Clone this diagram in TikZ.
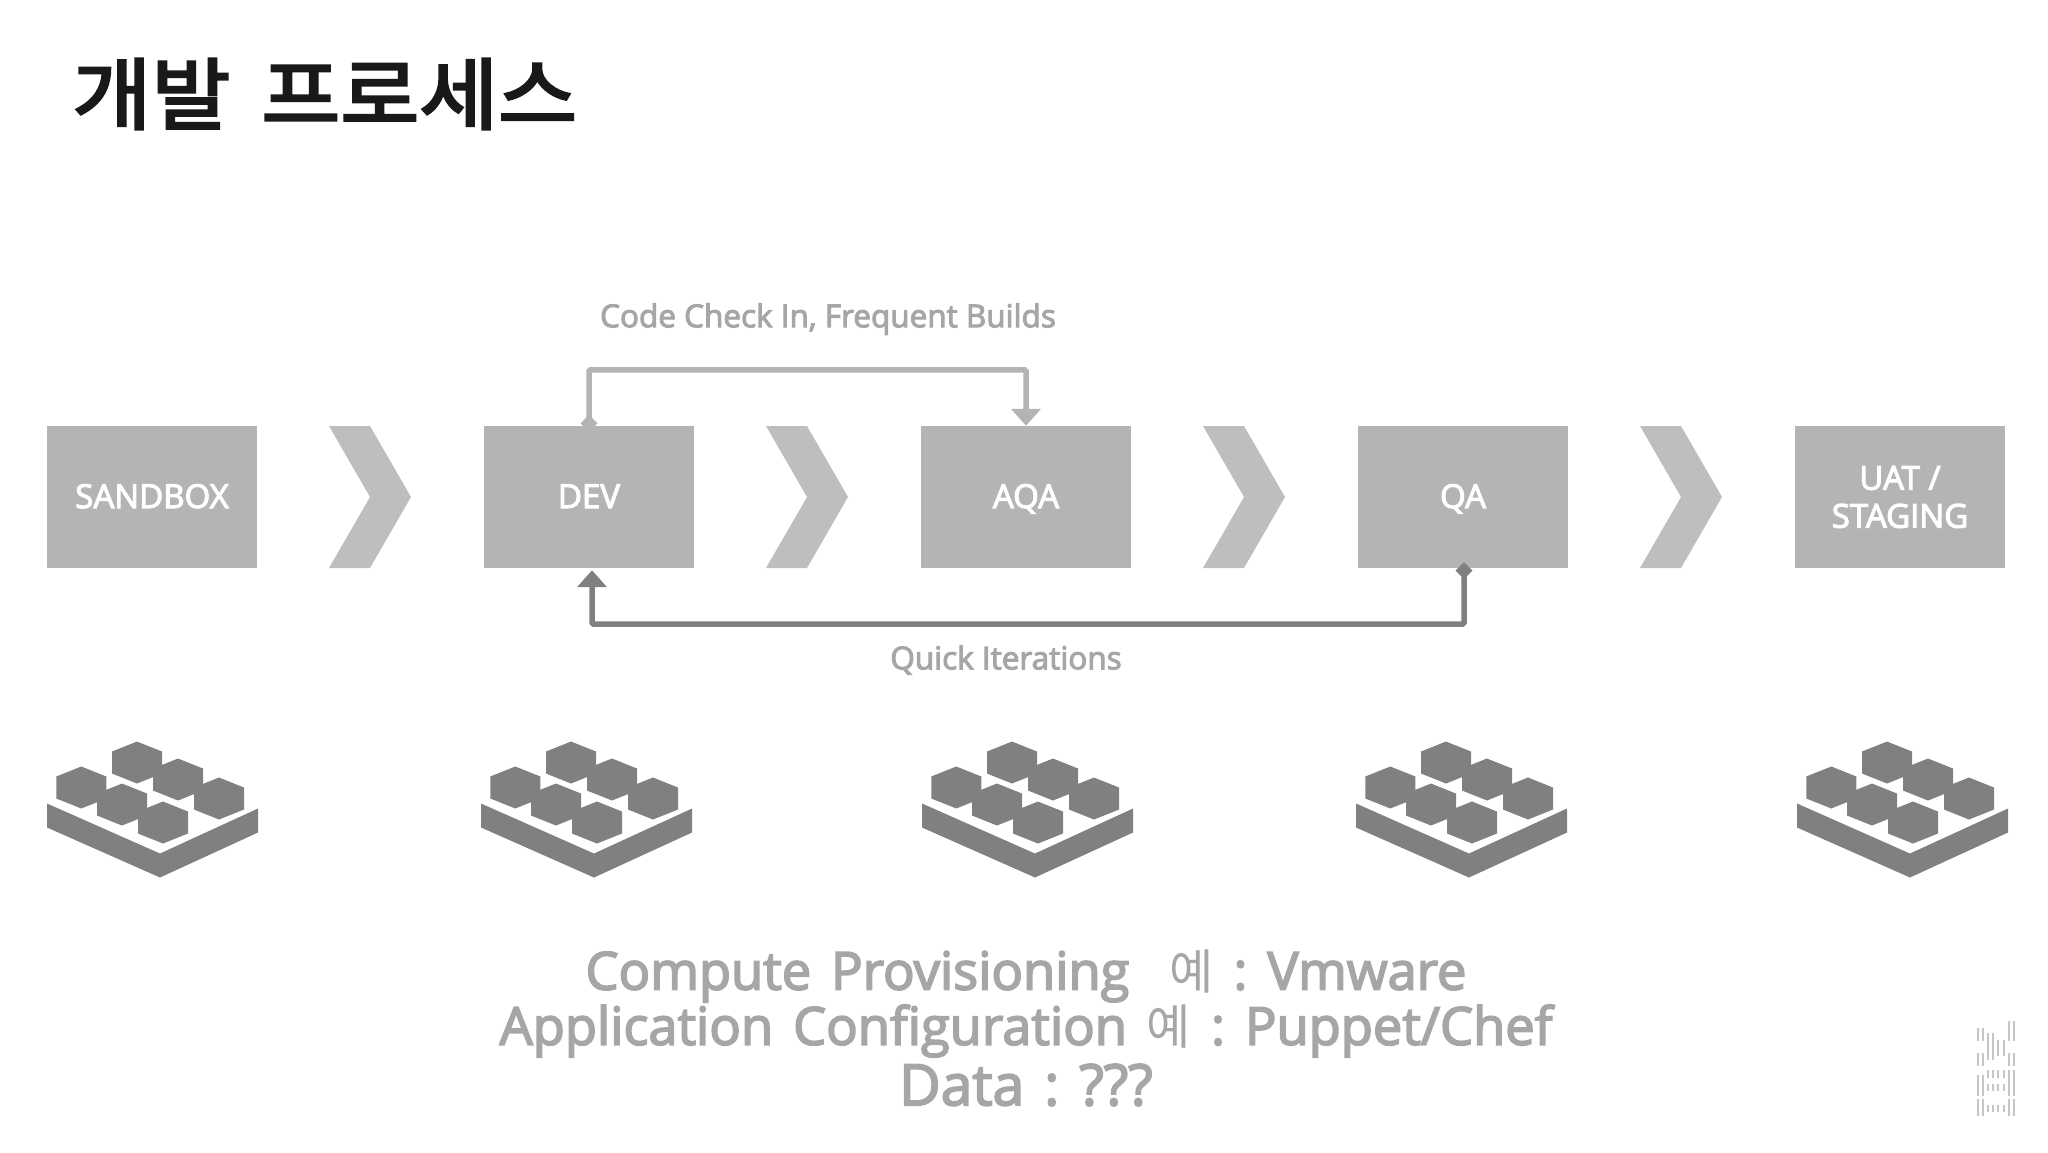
\documentclass[tikz,border=0pt]{standalone}
\usepackage{fontspec}
\setmainfont{Open Sans}
\newfontfamily\kr{Noto Sans CJK KR}
\newfontfamily\krtitle[FakeStretch=1.1,FakeBold=3.4]{Noto Sans CJK KR}
\newfontfamily\semi[FakeBold=3.2]{Open Sans}
\usetikzlibrary{arrows.meta}
\definecolor{boxg}{HTML}{B4B4B4}
\definecolor{chevg}{HTML}{BEBEBE}
\definecolor{darkg}{HTML}{808080}
\definecolor{txtg}{HTML}{A6A6A6}
\definecolor{iconstripe}{HTML}{C6C6C6}
\newcommand{\krchar}{{\kr\fontsize{48}{60}\selectfont 예}}
\newcommand{\gp}{\hskip 20pt\relax}
\tikzset{
  x=1pt,y=-1pt,
  stagebox/.style={fill=boxg,text=white,minimum width=210pt,minimum height=142pt,inner sep=0pt,align=center,font=\semi\fontsize{33}{38}\selectfont},
  stageone/.style={stagebox,text height=22pt,text depth=0pt},
  chevron/.pic={\fill[chevg] (0,0)--(41,0)--(82,71)--(41,142)--(0,142)--(41,71)--cycle;},
  iso/.pic={
    \fill[darkg] (0,0)--(113,50)--(211,5)--(211,29)--(113,74)--(0,24)--cycle;
    \foreach \cx/\cy in {90.0/-41,131/-24,172/-5,34.3/-16,75/1,116/19}
      \fill[darkg] (\cx,\cy-21)--(\cx+25,\cy-11)--(\cx+25,\cy+11)--(\cx,\cy+21)--(\cx-25,\cy+11)--(\cx-25,\cy-11)--cycle;
  },
  looplight/.style={draw=boxg,line width=5.5pt,rounded corners=1.5pt,{Diamond[length=17pt,width=17pt]}-{Triangle[length=17pt,width=29pt]},shorten <=-6pt},
  loopdark/.style={draw=darkg,line width=5.5pt,rounded corners=1.5pt,{Diamond[length=17pt,width=17pt]}-{Triangle[length=17pt,width=29pt]},shorten <=-6pt,shorten >=2pt},
  looplabel/.style={text=txtg,font=\semi\fontsize{31.5}{36}\selectfont},
  bigline/.style={text=txtg,font=\semi\fontsize{52.4}{60}\selectfont},
  biglast/.style={text=txtg,font=\semi\fontsize{57}{60}\selectfont},
  stripe/.style={draw=iconstripe,line width=2.6pt},
}
\begin{document}
\begin{tikzpicture}
\useasboundingbox (0,0) rectangle (2048,1152);
\node[anchor=west,text=black!90,font=\krtitle\fontsize{78}{90}\selectfont] (title) at (69,94) {개발\hspace{31pt}프로세스};
\node[stageone] (sandbox) at (152,497) {SANDBOX};
\node[stageone] (dev) at (589,497) {DEV};
\node[stageone] (aqa) at (1026,497) {AQA};
\node[stageone] (qa) at (1463,497) {QA};
\node[stagebox] (uat) at (1900,497) {UAT /\\STAGING};
\pic at (329,426) {chevron};
\pic at (766,426) {chevron};
\pic at (1203,426) {chevron};
\pic at (1640,426) {chevron};
\draw[looplight] (dev.north) -- ++(0,-56) -| (aqa.north);
\draw[loopdark] ([xshift=1pt]qa.south) -- ++(0,56) -| ([xshift=3pt]dev.south);
\node[looplabel] (codecheck) at (828,319) {Code Check In, Frequent Builds};
\node[looplabel] (quick) at (1006,660) {Quick Iterations};
\foreach \ix in {47,481,922,1356,1797} \pic at (\ix,803.5) {iso};
\node[bigline] (l1) at (1026,976) {Compute\gp Provisioning\hskip 40pt\relax\krchar\gp:\gp Vmware};
\node[bigline] (l2) at (1026,1031) {Application\gp Configuration\gp\krchar\gp:\gp Puppet/Chef};
\node[biglast] (l3) at (1026,1085) {Data\gp:\gp ???};
% rotated logo stripes
\foreach \sx in {1978,1983,2009,2014} \draw[stripe] (\sx,1099)--(\sx,1116);
\foreach \sx in {1988,1993,1998,2004} \draw[stripe] (\sx,1105)--(\sx,1112);
\foreach \sx in {1978,1983} \draw[stripe] (\sx,1075)--(\sx,1096);
\foreach \sx in {1988,1993,1998,2004} {\draw[stripe] (\sx,1070)--(\sx,1078); \draw[stripe] (\sx,1084)--(\sx,1091);}
\foreach \sx in {2009,2014} \draw[stripe] (\sx,1070)--(\sx,1096);
\foreach \sx in {1978,1983} {\draw[stripe] (\sx,1053)--(\sx,1066); \draw[stripe] (\sx,1028)--(\sx,1041);}
\foreach \sx in {1988,1993} \draw[stripe] (\sx,1033)--(\sx,1060);
\foreach \sx in {1998,2004} \draw[stripe] (\sx,1040)--(\sx,1056);
\foreach \sx in {2009,2014} {\draw[stripe] (\sx,1053)--(\sx,1066); \draw[stripe] (\sx,1021)--(\sx,1041);}
\end{tikzpicture}
\end{document}
